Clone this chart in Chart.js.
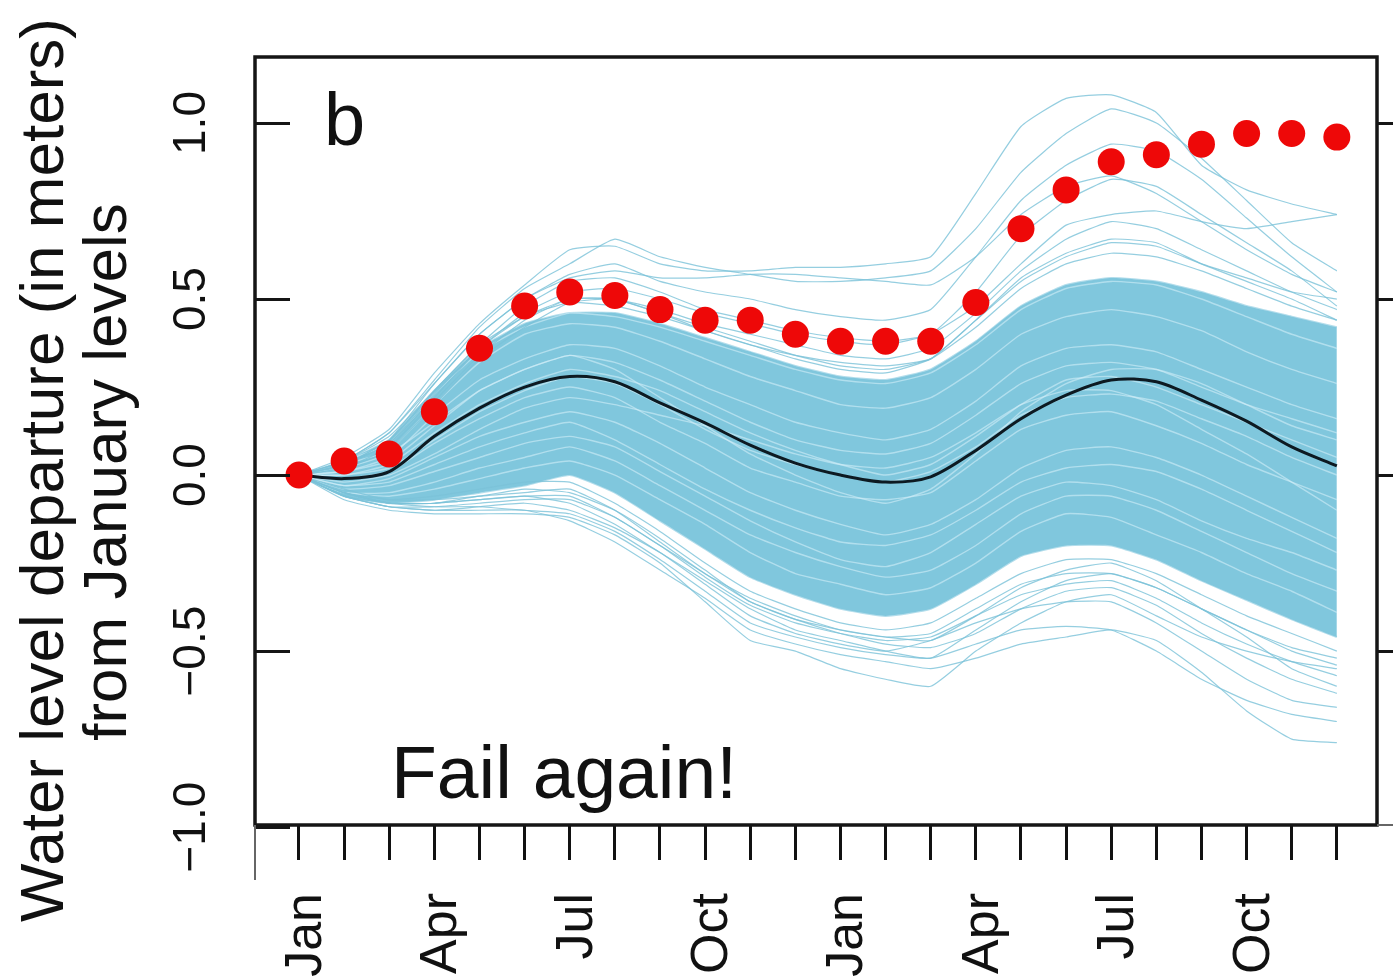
<!DOCTYPE html>
<html>
<head>
<meta charset="utf-8">
<title>Water level departure</title>
<script src="https://cdn.jsdelivr.net/npm/chart.js@4.4.1/dist/chart.umd.min.js"></script>
<style>
  html, body { margin: 0; padding: 0; background: #fff; }
  #wrap { width: 1393px; height: 980px; }
</style>
</head>
<body>
<div id="wrap"><canvas id="levelCanvas" width="1393" height="980"></canvas></div>
<script>
// x axis: two years of months
var monthNames = ['Jan','Feb','Mar','Apr','May','Jun','Jul','Aug','Sep','Oct','Nov','Dec',
                  'Jan','Feb','Mar','Apr','May','Jun','Jul','Aug','Sep','Oct','Nov','Dec'];
var tickLabels = ['Jan','','','Apr','','','Jul','','','Oct','','',
                  'Jan','','','Apr','','','Jul','','','Oct','',''];
var yTickValues = [-1, -0.5, 0, 0.5, 1];
var yTickLabels = ['\u22121.0', '\u22120.5', '0.0', '0.5', '1.0'];

// observed levels (red dots)
var observed = [0, 0.04, 0.06, 0.18, 0.36, 0.48, 0.52, 0.51, 0.47, 0.44, 0.44, 0.40,
                0.38, 0.38, 0.38, 0.49, 0.70, 0.81, 0.89, 0.91, 0.94, 0.97, 0.97, 0.96];

// ensemble mean (black line)
var meanLevel = [0, -0.01, 0.01, 0.11, 0.19, 0.25, 0.28, 0.265, 0.205, 0.148, 0.085, 0.034,
                 0.0, -0.02, -0.005, 0.07, 0.16, 0.227, 0.27, 0.265, 0.213, 0.153, 0.08, 0.026];

// where the blue runs are so thick they look solid
var bandTop = [0, 0.04, 0.10, 0.24, 0.36, 0.43, 0.46, 0.46, 0.43, 0.39, 0.35, 0.31,
               0.28, 0.27, 0.30, 0.38, 0.48, 0.54, 0.56, 0.55, 0.52, 0.48, 0.45, 0.42];
var bandBottom = [0, -0.06, -0.08, -0.07, -0.05, -0.03, 0.0, -0.05, -0.13, -0.21, -0.29, -0.34,
                  -0.38, -0.40, -0.38, -0.31, -0.23, -0.20, -0.20, -0.24, -0.30, -0.355, -0.41, -0.46];

// single runs inside the thick part
var dense01 = [0,-0.05,-0.06,-0.04,-0.01,0.02,0.04,0.0,-0.07,-0.14,-0.22,-0.28,-0.31,-0.34,-0.32,-0.25,-0.16,-0.11,-0.12,-0.17,-0.22,-0.28,-0.33,-0.39];
var dense02 = [0,-0.04,-0.03,0.01,0.05,0.09,0.11,0.08,0.01,-0.06,-0.13,-0.19,-0.24,-0.26,-0.22,-0.14,-0.06,-0.02,-0.03,-0.07,-0.13,-0.18,-0.22,-0.27];
var dense03 = [0,-0.03,-0.01,0.05,0.11,0.15,0.18,0.15,0.09,0.02,-0.05,-0.1,-0.14,-0.17,-0.14,-0.07,0.02,0.07,0.08,0.05,0.0,-0.06,-0.12,-0.18];
var dense04 = [0,-0.01,0.01,0.09,0.16,0.22,0.25,0.22,0.15,0.09,0.02,-0.02,-0.06,-0.07,-0.05,0.04,0.13,0.17,0.18,0.14,0.09,0.03,-0.02,-0.07];
var dense05 = [0,0.0,0.03,0.12,0.2,0.26,0.3,0.28,0.24,0.18,0.12,0.07,0.03,0.0,0.03,0.11,0.2,0.27,0.28,0.25,0.2,0.15,0.1,0.05];
var dense06 = [0,0.01,0.05,0.17,0.27,0.33,0.37,0.36,0.31,0.25,0.2,0.15,0.12,0.1,0.13,0.21,0.31,0.36,0.37,0.35,0.3,0.25,0.2,0.16];
var dense07 = [0,0.03,0.07,0.2,0.32,0.4,0.43,0.42,0.38,0.33,0.28,0.24,0.2,0.19,0.22,0.3,0.4,0.45,0.47,0.45,0.41,0.35,0.3,0.26];
var dense08 = [0,0.04,0.09,0.23,0.35,0.42,0.46,0.45,0.42,0.38,0.34,0.3,0.27,0.26,0.29,0.37,0.47,0.53,0.55,0.54,0.5,0.45,0.4,0.36];
var dense09 = [0,0.02,0.06,0.15,0.24,0.3,0.34,0.3,0.22,0.14,0.06,0.0,-0.05,-0.08,-0.04,0.06,0.18,0.26,0.3,0.3,0.26,0.2,0.14,0.1];
var dense10 = [0,-0.02,0.0,0.06,0.13,0.19,0.22,0.2,0.17,0.14,0.1,0.06,0.03,0.02,0.05,0.12,0.2,0.24,0.24,0.2,0.13,0.06,-0.02,-0.1];
var dense11 = [0,-0.03,-0.02,0.03,0.08,0.12,0.15,0.1,0.03,-0.04,-0.1,-0.15,-0.19,-0.2,-0.17,-0.1,-0.02,0.02,0.03,0.01,-0.04,-0.1,-0.16,-0.22];
var dense12 = [0,0.01,0.04,0.14,0.24,0.3,0.34,0.32,0.27,0.21,0.15,0.1,0.07,0.06,0.09,0.17,0.26,0.31,0.32,0.3,0.25,0.2,0.16,0.12];
var dense13 = [0,-0.05,-0.05,-0.02,0.02,0.05,0.08,0.04,-0.03,-0.1,-0.17,-0.22,-0.26,-0.29,-0.27,-0.2,-0.11,-0.06,-0.06,-0.1,-0.16,-0.22,-0.28,-0.33];
var dense14 = [0,0.0,0.02,0.1,0.18,0.24,0.28,0.26,0.2,0.13,0.07,0.03,0.0,-0.02,0.01,0.08,0.17,0.22,0.23,0.21,0.16,0.11,0.05,0.0];

// runs above the thick part
var upper01 = [0,0.05,0.13,0.29,0.43,0.54,0.64,0.65,0.6,0.58,0.58,0.59,0.59,0.6,0.62,0.8,0.99,1.07,1.08,1.03,0.88,0.81,0.77,0.74];
var upper02 = [0,0.04,0.12,0.27,0.42,0.53,0.6,0.67,0.62,0.59,0.57,0.55,0.55,0.56,0.58,0.7,0.86,0.97,1.04,1.0,0.9,0.78,0.66,0.58];
var upper03 = [0,0.03,0.1,0.26,0.4,0.5,0.57,0.6,0.55,0.52,0.5,0.47,0.45,0.44,0.47,0.62,0.78,0.88,0.94,0.92,0.84,0.73,0.62,0.52];
var upper04 = [0,0.04,0.11,0.24,0.37,0.48,0.55,0.56,0.52,0.47,0.44,0.41,0.39,0.38,0.4,0.52,0.68,0.78,0.84,0.82,0.74,0.66,0.58,0.48];
var upper05 = [0,0.03,0.09,0.22,0.36,0.46,0.52,0.53,0.5,0.46,0.43,0.4,0.38,0.37,0.4,0.48,0.6,0.71,0.74,0.75,0.72,0.7,0.72,0.74];
var upper06 = [0,0.02,0.08,0.21,0.34,0.44,0.5,0.5,0.47,0.43,0.4,0.37,0.34,0.33,0.36,0.46,0.58,0.67,0.72,0.7,0.64,0.58,0.52,0.47];
var upper07 = [0,0.02,0.07,0.2,0.33,0.42,0.49,0.5,0.46,0.41,0.37,0.34,0.32,0.31,0.33,0.44,0.56,0.63,0.67,0.66,0.6,0.55,0.5,0.44];
var upper08 = [0,0.04,0.12,0.26,0.4,0.5,0.56,0.58,0.56,0.56,0.57,0.57,0.56,0.55,0.54,0.62,0.74,0.82,0.85,0.8,0.72,0.64,0.57,0.52];
var upper09 = [0,0.03,0.1,0.24,0.37,0.45,0.5,0.5,0.46,0.42,0.38,0.34,0.31,0.3,0.33,0.42,0.53,0.6,0.63,0.62,0.58,0.53,0.48,0.44];
var upper10 = [0,0.03,0.09,0.23,0.36,0.45,0.49,0.48,0.45,0.41,0.37,0.33,0.3,0.29,0.33,0.44,0.55,0.62,0.66,0.65,0.6,0.56,0.52,0.5];

// runs below the thick part
var lower01 = [0,-0.07,-0.1,-0.11,-0.11,-0.11,-0.12,-0.17,-0.25,-0.36,-0.47,-0.5,-0.55,-0.58,-0.6,-0.5,-0.42,-0.36,-0.34,-0.4,-0.46,-0.5,-0.53,-0.55];
var lower02 = [0,-0.06,-0.09,-0.1,-0.1,-0.1,-0.13,-0.19,-0.27,-0.35,-0.44,-0.48,-0.51,-0.53,-0.55,-0.52,-0.48,-0.46,-0.44,-0.47,-0.56,-0.67,-0.75,-0.76];
var lower03 = [0,-0.05,-0.08,-0.09,-0.09,-0.1,-0.11,-0.16,-0.24,-0.33,-0.42,-0.46,-0.49,-0.51,-0.52,-0.48,-0.44,-0.43,-0.44,-0.5,-0.58,-0.64,-0.68,-0.7];
var lower04 = [0,-0.05,-0.08,-0.08,-0.07,-0.06,-0.08,-0.14,-0.22,-0.3,-0.38,-0.44,-0.47,-0.5,-0.52,-0.44,-0.36,-0.3,-0.28,-0.32,-0.38,-0.44,-0.5,-0.54];
var lower05 = [0,-0.04,-0.07,-0.07,-0.06,-0.04,-0.05,-0.1,-0.18,-0.27,-0.36,-0.41,-0.44,-0.46,-0.47,-0.4,-0.32,-0.27,-0.25,-0.3,-0.38,-0.46,-0.55,-0.6];
var lower06 = [0,-0.06,-0.09,-0.1,-0.09,-0.08,-0.1,-0.15,-0.22,-0.31,-0.4,-0.45,-0.48,-0.5,-0.47,-0.42,-0.38,-0.36,-0.36,-0.42,-0.5,-0.58,-0.64,-0.66];
var lower07 = [0,-0.05,-0.07,-0.06,-0.04,-0.02,-0.02,-0.08,-0.16,-0.25,-0.33,-0.38,-0.42,-0.44,-0.42,-0.35,-0.28,-0.24,-0.24,-0.28,-0.34,-0.4,-0.45,-0.5];
var lower08 = [0,-0.06,-0.08,-0.08,-0.06,-0.05,-0.04,-0.1,-0.19,-0.28,-0.35,-0.4,-0.44,-0.46,-0.45,-0.38,-0.31,-0.28,-0.28,-0.32,-0.38,-0.44,-0.49,-0.52];
var lower09 = [0,-0.05,-0.08,-0.08,-0.07,-0.06,-0.06,-0.12,-0.2,-0.29,-0.37,-0.42,-0.45,-0.47,-0.46,-0.4,-0.34,-0.31,-0.3,-0.35,-0.42,-0.48,-0.53,-0.57];
var lower10 = [0,-0.06,-0.09,-0.09,-0.08,-0.07,-0.07,-0.12,-0.2,-0.28,-0.36,-0.41,-0.45,-0.48,-0.49,-0.45,-0.38,-0.33,-0.32,-0.37,-0.45,-0.52,-0.58,-0.62];

var denseRuns = [dense01, dense02, dense03, dense04, dense05, dense06, dense07,
                 dense08, dense09, dense10, dense11, dense12, dense13, dense14];
var sparseRuns = [upper01, upper02, upper03, upper04, upper05, upper06, upper07, upper08, upper09, upper10,
                  lower01, lower02, lower03, lower04, lower05, lower06, lower07, lower08, lower09, lower10];

function toPoints(arr) {
    return arr.map(function(v, i) { return { x: i, y: v }; });
}

var datasets = [];
// red dots on top
datasets.push({
    label: 'Observed', data: toPoints(observed), showLine: false,
    pointRadius: 13.5, pointBackgroundColor: 'rgb(238,8,8)', pointBorderWidth: 0, order: 0
});
datasets.push({
    label: 'Mean', data: toPoints(meanLevel), borderColor: '#0d1a22', borderWidth: 3,
    pointRadius: 0, tension: 0.3, order: 1
});
sparseRuns.forEach(function(r) {
    datasets.push({ data: toPoints(r), borderColor: 'rgba(122,194,216,0.8)', borderWidth: 1.2,
                    pointRadius: 0, tension: 0.15, order: 2 });
});
denseRuns.forEach(function(r) {
    datasets.push({ data: toPoints(r), borderColor: 'rgba(210,239,248,0.6)', borderWidth: 1.4,
                    pointRadius: 0, tension: 0.15, order: 3 });
});
// the solid looking band (fills down to the next dataset)
datasets.push({ label: 'bandTop', data: toPoints(bandTop), fill: '+1', backgroundColor: 'rgb(128,199,221)',
                borderColor: 'rgba(128,199,221,0.6)', borderWidth: 2, pointRadius: 0, tension: 0.15, order: 4 });
datasets.push({ label: 'bandBottom', data: toPoints(bandBottom), fill: false,
                borderColor: 'rgba(128,199,221,0.6)', borderWidth: 2, pointRadius: 0, tension: 0.15, order: 4 });

var FONT = '"Liberation Sans", Arial, sans-serif';

function rotatedText(ctx, text, x, y, size, align) {
    ctx.save();
    ctx.translate(x, y);
    ctx.rotate(-Math.PI / 2);
    ctx.font = size + 'px ' + FONT;
    ctx.textAlign = align;
    ctx.textBaseline = 'alphabetic';
    ctx.fillText(text, 0, 0);
    ctx.restore();
}

var decorations = {
    id: 'decorations',
    afterDraw: function(chart) {
        var ctx = chart.ctx, a = chart.chartArea;
        var xs = chart.scales.x, ys = chart.scales.y;
        ctx.save();
        ctx.strokeStyle = '#151515';
        ctx.fillStyle = '#111';
        ctx.lineWidth = 3.5;

        // box
        ctx.strokeRect(a.left, a.top, a.right - a.left, a.bottom - a.top);

        // y ticks point inward
        ctx.lineWidth = 3;
        yTickValues.forEach(function(v) {
            var py = Math.round(ys.getPixelForValue(v)) + 0.5;
            ctx.beginPath();
            ctx.moveTo(a.left, py);
            ctx.lineTo(a.left + 35, py);
            ctx.stroke();
        });

        // stubs of the neighbouring panel on the right
        yTickValues.forEach(function(v) {
            if (v < -0.9) return;
            var py = Math.round(ys.getPixelForValue(v)) + 0.5;
            ctx.beginPath();
            ctx.moveTo(a.right, py);
            ctx.lineTo(chart.width, py);
            ctx.stroke();
        });

        // left edge carries on below the box
        ctx.strokeStyle = '#666';
        ctx.lineWidth = 2;
        ctx.beginPath();
        ctx.moveTo(a.left, a.bottom);
        ctx.lineTo(a.left, a.bottom + 55);
        ctx.moveTo(a.right, a.bottom);
        ctx.lineTo(chart.width, a.bottom);
        ctx.stroke();

        // y tick labels
        yTickValues.forEach(function(v, i) {
            rotatedText(ctx, yTickLabels[i], 205, ys.getPixelForValue(v), 46, 'center');
        });

        // axis title, two lines
        rotatedText(ctx, 'Water level departure (in meters)', 63, 470, 62, 'center');
        rotatedText(ctx, 'from January levels', 126, 472, 62, 'center');

        // month labels
        tickLabels.forEach(function(t, i) {
            if (!t) return;
            rotatedText(ctx, t, xs.getPixelForValue(i) + 22, 893, 52, 'right');
        });

        // panel letter and note
        ctx.font = '74px ' + FONT;
        ctx.textAlign = 'left';
        ctx.textBaseline = 'alphabetic';
        ctx.fillText('b', 324, 145);
        ctx.font = '75px ' + FONT;
        ctx.fillText('Fail again!', 391, 798);
        ctx.restore();
    }
};

var chart = new Chart(document.getElementById('levelCanvas'), {
    type: 'line',
    data: { datasets: datasets },
    options: {
        responsive: false,
        animation: false,
        devicePixelRatio: 1,
        layout: { padding: { top: 57, right: 16, left: 0, bottom: 0 } },
        plugins: { legend: { display: false }, tooltip: { enabled: false } },
        scales: {
            x: {
                type: 'linear', min: -0.975, max: 23.89,
                afterBuildTicks: function(s) {
                    s.ticks = monthNames.map(function(m, i) { return { value: i }; });
                },
                afterFit: function(s) { s.height = 155; },
                ticks: { display: false },
                grid: { drawOnChartArea: false, drawTicks: true, tickLength: 35,
                        tickWidth: 3, tickColor: '#111', color: '#111', lineWidth: 3 },
                border: { display: false }
            },
            y: {
                type: 'linear', min: -0.994, max: 1.1875,
                afterFit: function(s) { s.width = 255; },
                ticks: { display: false },
                grid: { display: false },
                border: { display: false }
            }
        }
    },
    plugins: [decorations]
});
</script>
</body>
</html>
